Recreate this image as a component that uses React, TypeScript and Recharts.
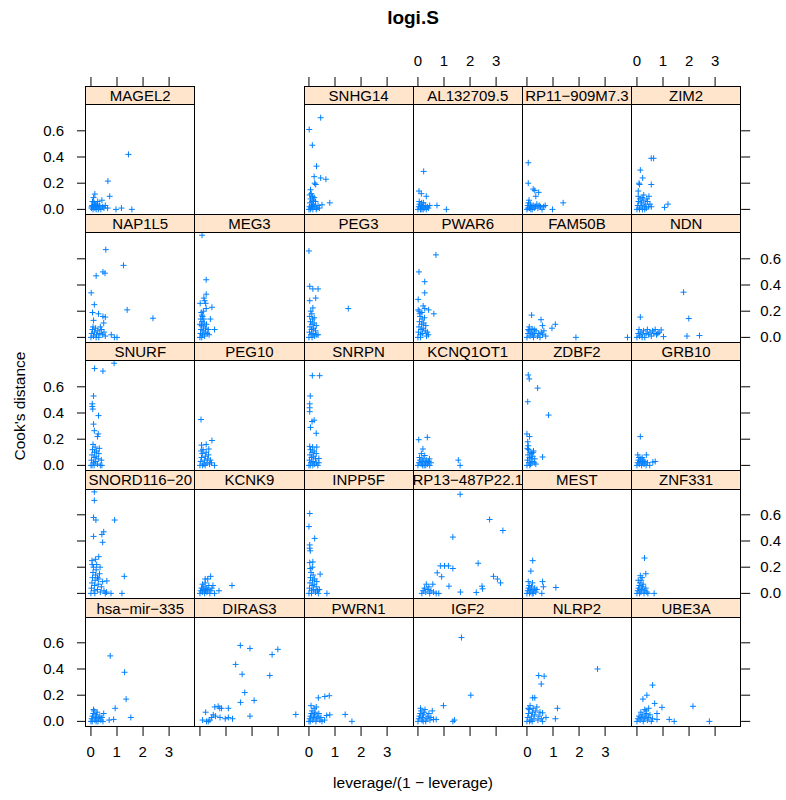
import React from 'react';
import { ScatterChart, Scatter, XAxis, YAxis } from 'recharts';

// leverage/(1 - leverage) vs Cook's distance, one list of [x, y] per gene
const MAGEL2 = [[1.44,0.42],[0.65,0.216],[0.72,0.10],[0.15,0.117],[0.10,0.09],[0.42,0.07],[0.26,0.06],[1.17,0.01],[1.57,0.0],[0.96,0.0],[0.64,0.01],[0.02,0.01],[0.05,0.03],[0.08,0.0],[0.1,0.02],[0.12,0.05],[0.15,0.01],[0.18,0.03],[0.2,0.0],[0.22,0.02],[0.25,0.04],[0.3,0.01],[0.33,0.03],[0.38,0.0],[0.45,0.02],[0.5,0.01],[0.55,0.03],[0.06,0.06],[0.03,0.02],[0.14,0.04],[0.28,0.0]];
const SNHG14 = [[0.45,0.70],[0.01,0.61],[0.13,0.49],[0.29,0.33],[0.2,0.25],[0.45,0.24],[0.65,0.23],[0.22,0.2],[0.26,0.19],[0.06,0.15],[0.14,0.10],[0.8,0.05],[0.5,0.035],[0.0,0.0],[0.02,0.02],[0.04,0.05],[0.06,0.08],[0.08,0.01],[0.1,0.03],[0.12,0.06],[0.15,0.0],[0.18,0.04],[0.2,0.09],[0.22,0.02],[0.25,0.06],[0.3,0.01],[0.35,0.03],[0.03,0.11],[0.09,0.12],[0.05,0.0],[0.13,0.02],[0.17,0.07],[0.28,0.0],[0.4,0.01]];
const AL132709 = [[0.22,0.29],[0.04,0.14],[0.32,0.10],[0.13,0.12],[0.73,0.03],[1.09,0.0],[0.45,0.03],[0.0,0.0],[0.03,0.02],[0.06,0.04],[0.09,0.01],[0.12,0.03],[0.15,0.0],[0.18,0.02],[0.21,0.05],[0.24,0.01],[0.28,0.03],[0.32,0.0],[0.36,0.02],[0.05,0.06],[0.1,0.0],[0.2,0.0],[0.4,0.01],[0.14,0.05]];
const RP11 = [[0.05,0.356],[0.05,0.2],[0.24,0.155],[0.3,0.145],[0.45,0.13],[0.34,0.10],[1.39,0.05],[0.98,0.0],[0.0,0.0],[0.03,0.03],[0.06,0.05],[0.1,0.01],[0.13,0.04],[0.16,0.02],[0.2,0.0],[0.24,0.03],[0.28,0.01],[0.33,0.02],[0.38,0.04],[0.42,0.01],[0.47,0.03],[0.52,0.02],[0.58,0.0],[0.64,0.02],[0.7,0.03],[0.08,0.07],[0.04,0.01],[0.15,0.0]];
const ZIM2 = [[0.55,0.39],[0.64,0.39],[0.13,0.30],[0.22,0.24],[0.08,0.2],[0.1,0.19],[0.55,0.19],[0.05,0.14],[0.26,0.11],[0.46,0.10],[1.19,0.04],[1.06,0.015],[0.55,0.02],[0.0,0.0],[0.03,0.03],[0.06,0.06],[0.09,0.01],[0.12,0.08],[0.15,0.03],[0.18,0.05],[0.21,0.0],[0.24,0.07],[0.28,0.02],[0.32,0.04],[0.36,0.01],[0.4,0.06],[0.45,0.02],[0.5,0.04],[0.05,0.1],[0.2,0.09],[0.1,0.0],[0.3,0.0],[0.38,0.08]];
const NAP1L5 = [[0.57,0.67],[1.25,0.55],[0.46,0.50],[0.54,0.49],[0.2,0.47],[0.01,0.34],[0.13,0.25],[1.39,0.21],[2.38,0.146],[0.06,0.19],[0.29,0.18],[0.46,0.16],[0.55,0.155],[0.1,0.13],[0.49,0.11],[0.78,0.02],[0.9,0.0],[1.0,0.0],[0.0,0.0],[0.03,0.03],[0.06,0.06],[0.1,0.01],[0.14,0.04],[0.18,0.07],[0.22,0.02],[0.26,0.05],[0.3,0.0],[0.34,0.03],[0.4,0.06],[0.45,0.02],[0.5,0.04],[0.55,0.01],[0.08,0.08],[0.2,0.0],[0.36,0.08]];
const MEG3 = [[0.08,0.78],[0.24,0.44],[0.24,0.33],[0.15,0.3],[0.18,0.28],[0.01,0.26],[0.22,0.26],[0.46,0.23],[0.24,0.22],[0.08,0.17],[0.4,0.14],[0.56,0.06],[0.15,0.14],[0.0,0.0],[0.02,0.03],[0.04,0.06],[0.06,0.09],[0.08,0.12],[0.1,0.02],[0.12,0.05],[0.14,0.08],[0.16,0.11],[0.18,0.01],[0.2,0.04],[0.22,0.07],[0.25,0.1],[0.28,0.03],[0.32,0.06],[0.03,0.14],[0.1,0.16],[0.05,0.19],[0.13,0.2],[0.35,0.02],[0.0,0.1],[0.07,0.0]];
const PEG3 = [[0.0,0.66],[0.03,0.39],[0.15,0.37],[0.35,0.37],[0.26,0.30],[0.03,0.28],[1.51,0.22],[0.15,0.225],[0.11,0.18],[0.35,0.02],[0.0,0.0],[0.02,0.04],[0.04,0.08],[0.06,0.12],[0.08,0.02],[0.1,0.06],[0.12,0.1],[0.14,0.14],[0.16,0.03],[0.18,0.07],[0.2,0.11],[0.22,0.01],[0.25,0.05],[0.28,0.09],[0.3,0.02],[0.03,0.16],[0.07,0.2],[0.12,0.0],[0.2,0.15]];
const PWAR6 = [[0.69,0.63],[0.04,0.50],[0.26,0.425],[0.26,0.34],[0.01,0.29],[0.2,0.24],[0.26,0.22],[0.41,0.21],[0.61,0.18],[0.01,0.21],[0.07,0.18],[0.0,0.0],[0.02,0.04],[0.04,0.08],[0.06,0.12],[0.08,0.16],[0.1,0.02],[0.12,0.06],[0.14,0.1],[0.16,0.14],[0.18,0.03],[0.2,0.07],[0.22,0.11],[0.25,0.15],[0.28,0.05],[0.3,0.09],[0.33,0.01],[0.36,0.04],[0.4,0.02],[0.05,0.2],[0.15,0.19],[0.1,0.0]];
const FAM50B = [[0.18,0.17],[0.54,0.135],[0.6,0.09],[1.09,0.10],[0.96,0.07],[0.09,0.08],[0.2,0.065],[1.88,0.0],[3.86,0.0],[0.0,0.0],[0.04,0.03],[0.08,0.05],[0.12,0.01],[0.16,0.04],[0.2,0.02],[0.25,0.0],[0.3,0.03],[0.35,0.05],[0.4,0.01],[0.45,0.03],[0.5,0.0],[0.55,0.04],[0.6,0.02],[0.65,0.05],[0.72,0.01],[0.05,0.06],[0.28,0.06]];
const NDN = [[1.79,0.345],[1.99,0.144],[0.13,0.155],[1.92,0.01],[2.4,0.014],[1.02,0.006],[0.93,0.057],[0.8,0.03],[0.0,0.0],[0.05,0.03],[0.1,0.01],[0.15,0.04],[0.2,0.02],[0.25,0.05],[0.3,0.0],[0.35,0.03],[0.4,0.06],[0.45,0.02],[0.5,0.04],[0.55,0.01],[0.6,0.05],[0.65,0.03],[0.7,0.06],[0.75,0.02],[0.85,0.04],[0.08,0.06],[0.2,0.0]];
const SNURF = [[0.89,0.78],[0.14,0.74],[0.46,0.72],[0.1,0.53],[0.05,0.47],[0.05,0.45],[0.07,0.43],[0.29,0.38],[0.1,0.315],[0.13,0.265],[0.28,0.24],[0.25,0.22],[0.42,0.0],[0.0,0.0],[0.02,0.04],[0.04,0.08],[0.06,0.12],[0.08,0.16],[0.1,0.02],[0.12,0.06],[0.14,0.1],[0.16,0.14],[0.18,0.03],[0.2,0.07],[0.22,0.11],[0.25,0.01],[0.28,0.05],[0.3,0.09],[0.32,0.13],[0.36,0.0],[0.4,0.04],[0.04,0.0],[0.12,0.0]];
const PEG10 = [[0.04,0.35],[0.46,0.19],[0.24,0.16],[0.06,0.155],[0.34,0.125],[0.56,0.0],[0.0,0.0],[0.03,0.03],[0.06,0.06],[0.09,0.09],[0.12,0.12],[0.15,0.01],[0.18,0.04],[0.21,0.07],[0.24,0.1],[0.27,0.02],[0.3,0.05],[0.33,0.08],[0.37,0.01],[0.4,0.04],[0.44,0.02],[0.05,0.11],[0.1,0.0],[0.2,0.0]];
const SNRPN = [[0.13,0.685],[0.41,0.685],[0.05,0.53],[0.03,0.47],[0.03,0.44],[0.03,0.41],[0.2,0.345],[0.12,0.335],[0.06,0.29],[0.28,0.245],[0.03,0.145],[0.3,0.14],[0.38,0.053],[0.0,0.0],[0.02,0.04],[0.04,0.08],[0.06,0.12],[0.08,0.02],[0.1,0.06],[0.12,0.1],[0.14,0.14],[0.16,0.03],[0.18,0.07],[0.2,0.11],[0.22,0.01],[0.25,0.05],[0.28,0.09],[0.3,0.02],[0.34,0.0],[0.38,0.02],[0.05,0.0],[0.15,0.0]];
const KCNQ1OT1 = [[0.03,0.196],[0.36,0.214],[0.19,0.125],[0.13,0.09],[0.26,0.075],[1.55,0.04],[1.62,0.0],[0.45,0.0],[0.0,0.0],[0.04,0.02],[0.08,0.04],[0.12,0.01],[0.16,0.03],[0.2,0.05],[0.24,0.0],[0.28,0.02],[0.32,0.04],[0.36,0.01],[0.4,0.03],[0.44,0.05],[0.06,0.06],[0.18,0.0],[0.3,0.0],[0.5,0.02]];
const ZDBF2 = [[0.05,0.69],[0.09,0.66],[0.41,0.59],[0.03,0.486],[0.83,0.384],[0.0,0.24],[0.1,0.22],[0.03,0.18],[0.05,0.15],[0.6,0.064],[0.24,0.1],[0.0,0.0],[0.02,0.04],[0.04,0.08],[0.06,0.12],[0.08,0.02],[0.1,0.06],[0.12,0.1],[0.14,0.01],[0.16,0.05],[0.18,0.09],[0.2,0.03],[0.22,0.07],[0.25,0.11],[0.28,0.02],[0.3,0.05],[0.34,0.01],[0.02,0.13],[0.11,0.0]];
const GRB10 = [[0.13,0.22],[0.03,0.08],[0.36,0.08],[0.7,0.03],[0.61,0.025],[0.49,0.0],[0.0,0.0],[0.03,0.02],[0.06,0.04],[0.09,0.01],[0.12,0.03],[0.15,0.05],[0.18,0.0],[0.21,0.02],[0.24,0.04],[0.27,0.01],[0.3,0.03],[0.35,0.0],[0.4,0.02],[0.08,0.06],[0.2,0.06]];
const SNORD116 = [[0.13,0.775],[0.13,0.71],[0.1,0.58],[0.19,0.56],[0.91,0.56],[0.49,0.47],[0.42,0.45],[0.1,0.435],[0.45,0.39],[0.3,0.28],[0.17,0.26],[0.04,0.25],[1.28,0.13],[0.61,0.095],[1.19,0.0],[0.77,0.0],[0.0,0.0],[0.02,0.04],[0.04,0.08],[0.06,0.12],[0.08,0.16],[0.1,0.2],[0.12,0.02],[0.14,0.06],[0.16,0.1],[0.18,0.14],[0.2,0.18],[0.22,0.22],[0.25,0.03],[0.28,0.07],[0.3,0.11],[0.33,0.15],[0.36,0.01],[0.4,0.05],[0.45,0.09],[0.5,0.02],[0.55,0.0],[0.6,0.01],[0.05,0.22],[0.15,0.0],[0.35,0.2],[0.25,0.12]];
const KCNK9 = [[0.41,0.13],[0.2,0.11],[0.3,0.11],[1.23,0.06],[0.5,0.06],[0.73,0.02],[0.56,0.0],[0.0,0.0],[0.03,0.02],[0.06,0.04],[0.09,0.01],[0.12,0.03],[0.15,0.05],[0.18,0.0],[0.21,0.02],[0.24,0.04],[0.27,0.01],[0.3,0.03],[0.34,0.06],[0.38,0.0],[0.42,0.02],[0.46,0.04],[0.1,0.07],[0.2,0.08]];
const INPP5F = [[0.03,0.61],[0.0,0.51],[0.22,0.42],[0.03,0.37],[0.03,0.345],[0.05,0.325],[0.15,0.24],[0.03,0.235],[0.43,0.147],[0.69,0.0],[0.13,0.2],[0.0,0.0],[0.02,0.04],[0.04,0.08],[0.06,0.12],[0.08,0.16],[0.1,0.02],[0.12,0.06],[0.14,0.1],[0.16,0.14],[0.18,0.03],[0.2,0.07],[0.22,0.11],[0.25,0.01],[0.28,0.05],[0.3,0.09],[0.33,0.02],[0.36,0.0],[0.4,0.03],[0.05,0.19],[0.1,0.0]];
const RP13 = [[1.62,0.757],[2.75,0.564],[3.26,0.48],[1.34,0.43],[2.31,0.23],[0.86,0.21],[1.02,0.21],[1.17,0.21],[1.34,0.19],[0.74,0.157],[0.91,0.127],[2.9,0.13],[3.05,0.11],[3.17,0.08],[1.19,0.055],[0.57,0.07],[0.32,0.07],[2.46,0.055],[2.48,0.035],[1.63,0.01],[2.24,0.007],[0.15,0.0],[0.2,0.02],[0.3,0.01],[0.38,0.03],[0.45,0.0],[0.5,0.02],[0.6,0.01],[0.7,0.0],[0.8,0.0],[0.25,0.04],[0.42,0.05]];
const MEST = [[0.22,0.25],[0.15,0.17],[0.6,0.09],[1.11,0.045],[0.63,0.05],[0.57,0.0],[0.0,0.0],[0.03,0.02],[0.06,0.04],[0.09,0.06],[0.12,0.01],[0.15,0.03],[0.18,0.05],[0.21,0.08],[0.24,0.0],[0.27,0.02],[0.3,0.04],[0.34,0.01],[0.38,0.03],[0.05,0.09],[0.2,0.0],[0.1,0.0]];
const ZNF331 = [[0.29,0.27],[0.34,0.15],[0.13,0.135],[0.66,0.0],[0.2,0.12],[0.0,0.0],[0.03,0.02],[0.06,0.04],[0.09,0.06],[0.12,0.08],[0.15,0.01],[0.18,0.03],[0.21,0.05],[0.24,0.07],[0.27,0.0],[0.3,0.02],[0.34,0.04],[0.38,0.01],[0.42,0.0],[0.05,0.1],[0.16,0.1],[0.1,0.0]];
const HSA_MIR_335 = [[0.74,0.50],[1.29,0.375],[1.35,0.17],[0.93,0.10],[1.53,0.03],[0.87,0.015],[0.7,0.01],[0.49,0.06],[0.0,0.0],[0.03,0.02],[0.06,0.04],[0.09,0.06],[0.12,0.08],[0.15,0.01],[0.18,0.03],[0.21,0.05],[0.24,0.07],[0.27,0.0],[0.3,0.02],[0.34,0.04],[0.38,0.01],[0.42,0.03],[0.46,0.0],[0.1,0.09],[0.2,0.0],[0.05,0.0]];
const DIRAS3 = [[1.55,0.58],[1.92,0.557],[2.99,0.55],[2.77,0.51],[1.37,0.435],[1.62,0.36],[2.68,0.35],[1.72,0.22],[2.08,0.16],[1.56,0.145],[3.68,0.053],[1.92,0.04],[1.09,0.10],[0.7,0.115],[0.57,0.11],[0.83,0.1],[0.76,0.1],[0.77,0.03],[1.09,0.03],[0.97,0.02],[1.25,0.02],[0.22,0.07],[0.51,0.05],[0.1,0.01],[0.32,0.0],[0.45,0.03],[0.38,0.01],[0.6,0.04],[0.25,0.0]];
const PWRN1 = [[0.78,0.196],[0.61,0.19],[0.36,0.18],[0.08,0.12],[1.39,0.053],[1.65,0.0],[0.8,0.05],[0.68,0.045],[0.6,0.01],[0.0,0.0],[0.03,0.02],[0.06,0.04],[0.09,0.06],[0.12,0.08],[0.15,0.01],[0.18,0.03],[0.21,0.05],[0.24,0.07],[0.27,0.0],[0.3,0.02],[0.34,0.04],[0.38,0.06],[0.42,0.01],[0.46,0.03],[0.5,0.0],[0.2,0.1],[0.28,0.11],[0.05,0.0]];
const IGF2 = [[1.67,0.64],[2.03,0.20],[0.98,0.12],[1.34,0.0],[1.4,0.01],[0.6,0.015],[0.7,0.015],[0.0,0.0],[0.03,0.02],[0.06,0.04],[0.09,0.06],[0.12,0.08],[0.15,0.01],[0.18,0.03],[0.21,0.05],[0.24,0.07],[0.27,0.09],[0.3,0.0],[0.34,0.02],[0.38,0.04],[0.42,0.06],[0.46,0.01],[0.5,0.03],[0.55,0.08],[0.1,0.1],[0.2,0.0]];
const NLRP2 = [[2.71,0.40],[0.45,0.35],[0.66,0.345],[0.55,0.285],[0.22,0.18],[0.3,0.18],[1.17,0.10],[1.09,0.02],[0.73,0.03],[0.6,0.065],[0.0,0.0],[0.03,0.03],[0.06,0.06],[0.09,0.09],[0.12,0.12],[0.15,0.01],[0.18,0.04],[0.21,0.07],[0.24,0.1],[0.27,0.02],[0.3,0.05],[0.34,0.08],[0.38,0.11],[0.42,0.01],[0.46,0.04],[0.5,0.07],[0.55,0.02],[0.6,0.0],[0.1,0.0],[0.2,0.0],[0.05,0.1]];
const UBE3A = [[0.6,0.277],[0.38,0.2],[0.23,0.17],[0.68,0.137],[0.96,0.107],[2.15,0.115],[0.77,0.06],[0.77,0.015],[1.24,0.015],[1.43,0.0],[2.78,0.0],[0.45,0.1],[0.3,0.09],[0.0,0.0],[0.04,0.02],[0.08,0.04],[0.12,0.01],[0.16,0.03],[0.2,0.05],[0.24,0.0],[0.28,0.02],[0.32,0.04],[0.36,0.06],[0.4,0.01],[0.45,0.03],[0.5,0.05],[0.55,0.0],[0.6,0.02],[0.15,0.07],[0.35,0.08]];

// panel grid, top row first; null = empty slot
const GRID: ([string, number[][]] | null)[][] = [
  [['MAGEL2', MAGEL2], null, ['SNHG14', SNHG14], ['AL132709.5', AL132709], ['RP11\u2212909M7.3', RP11], ['ZIM2', ZIM2]],
  [['NAP1L5', NAP1L5], ['MEG3', MEG3], ['PEG3', PEG3], ['PWAR6', PWAR6], ['FAM50B', FAM50B], ['NDN', NDN]],
  [['SNURF', SNURF], ['PEG10', PEG10], ['SNRPN', SNRPN], ['KCNQ1OT1', KCNQ1OT1], ['ZDBF2', ZDBF2], ['GRB10', GRB10]],
  [['SNORD116\u221220', SNORD116], ['KCNK9', KCNK9], ['INPP5F', INPP5F], ['RP13\u2212487P22.1', RP13], ['MEST', MEST], ['ZNF331', ZNF331]],
  [['hsa\u2212mir\u2212335', HSA_MIR_335], ['DIRAS3', DIRAS3], ['PWRN1', PWRN1], ['IGF2', IGF2], ['NLRP2', NLRP2], ['UBE3A', UBE3A]],
];

const X_TICKS = [0, 1, 2, 3];
const Y_TICKS = [0, 0.2, 0.4, 0.6];
const X_DOMAIN = [-0.19, 4.0];
const Y_DOMAIN = [-0.0405, 0.797];
const TOP_LABEL_COLS = [1, 3, 5];
const BOTTOM_LABEL_COLS = [0, 2, 4];

const FONT = '"Liberation Sans", Arial, Helvetica, sans-serif';
const X0 = 85.7;
const W = 109.17;
const Y0 = 86;
const ROW = 128.2;
const SH = 18.5;
const PH = 109.7;
const AX = 60;
const TA = 40;
const PAD = 12;
const TICK = 9;
const SPAN = X_DOMAIN[1] - X_DOMAIN[0];

const Cross = (p: any) => {
  const { cx, cy } = p;
  if (cx == null || cy == null) return <g />;
  return <path d={`M${cx - 3},${cy}h6M${cx},${cy - 3}v6`} stroke="#0080ff" strokeWidth={1} fill="none" />;
};
const Nothing = () => <g />;

const yTick = (show: boolean, right: boolean) => (p: any) => {
  if (!show) return <g />;
  const { x, y, payload } = p;
  return (
    <text x={right ? x + 8 : x - 11} y={y + 5} textAnchor={right ? 'start' : 'end'} fill="#000" fontSize={15} fontFamily={FONT}>
      {Number(payload.value).toFixed(1)}
    </text>
  );
};

function Panel({ name, pts, row, col }: { name: string; pts: number[][]; row: number; col: number }) {
  const left = X0 + col * W;
  const top = Y0 + row * ROW + SH;
  const hasLeft = col === 0;
  const hasRight = col === 5;
  const yLab = hasLeft ? row % 2 === 0 : row % 2 === 1;
  const cw = W + (hasLeft ? AX : 0) + (hasRight ? AX : 0);
  const ch = PH + 2 * PAD;
  const data = pts.map(([x, y]) => ({ x, y }));
  return (
    <>
      <div style={{ position: 'absolute', left: left - (hasLeft ? AX : 0), top: top - PAD, width: cw, height: ch }}>
        <ScatterChart width={cw} height={ch} margin={{ top: PAD, right: 0, bottom: PAD, left: 0 }}>
          <XAxis type="number" dataKey="x" domain={X_DOMAIN} ticks={X_TICKS} allowDataOverflow hide />
          <YAxis type="number" dataKey="y" domain={Y_DOMAIN} ticks={Y_TICKS} interval={0} allowDataOverflow
            hide={!(hasLeft || hasRight)} orientation={hasRight ? 'right' : 'left'} width={AX} axisLine={false}
            tickSize={TICK} stroke="#000" tick={yTick(yLab, hasRight)} />
          <Scatter data={data} shape={Cross} isAnimationActive={false} />
        </ScatterChart>
      </div>
      <div style={{ position: 'absolute', left: left - 0.5, top: top - 0.5, width: W + 1, height: PH + 1,
        border: '1px solid #000', boxSizing: 'border-box', pointerEvents: 'none' }} />
      <div style={{ position: 'absolute', left: left - 0.5, top: top - SH - 0.5, width: W + 1, height: SH + 1,
        border: '1px solid #000', boxSizing: 'border-box', background: '#ffe5cc', overflow: 'hidden',
        display: 'flex', justifyContent: 'center', alignItems: 'center', fontFamily: FONT, fontSize: 15,
        whiteSpace: 'nowrap', color: '#000' }}>
        <span>{name}</span>
      </div>
    </>
  );
}

// outer x axis of one column, above the top strip or below the bottom panel.
// Tick labels are written as html next to the tick the axis reports.
function EdgeAxis({ col, top }: { col: number; top: boolean }) {
  const left = X0 + col * W;
  const show = (top ? TOP_LABEL_COLS : BOTTOM_LABEL_COLS).includes(col);
  const y = top ? Y0 - TA : Y0 + 4 * ROW + SH + PH - 4;
  const data = X_TICKS.map((x) => ({ x, y: 0 }));
  return (
    <div style={{ position: 'absolute', left, top: y, width: W, height: TA + 4, zIndex: 5 }}>
      <ScatterChart width={W} height={TA + 4} margin={{ top: 0, right: 0, bottom: 0, left: 0 }}>
        <XAxis type="number" dataKey="x" orientation={top ? 'top' : 'bottom'} domain={X_DOMAIN} ticks={X_TICKS}
          interval={0} allowDataOverflow height={TA} axisLine={false} tickSize={TICK} stroke="#000"
          tick={(p: any) => (show && top ? (
            <text x={p.x} y={p.y - 9} textAnchor="middle" fill="#000" fontSize={15} fontFamily={FONT}>
              {String(p.payload.value)}
            </text>
          ) : <g />)} />
        <YAxis type="number" dataKey="y" domain={Y_DOMAIN} allowDataOverflow hide />
        <Scatter data={data} shape={Nothing} isAnimationActive={false} />
      </ScatterChart>
      {show && !top && X_TICKS.map((t) => (
        <div key={t} style={{ position: 'absolute', left: ((t - X_DOMAIN[0]) / SPAN) * W, top: 28,
          transform: 'translate(-50%, -50%)', fontSize: 15, lineHeight: '15px', fontFamily: FONT, color: '#000' }}>
          {t}
        </div>
      ))}
    </div>
  );
}

export default function App() {
  const bottomRow = GRID[GRID.length - 1];
  return (
    <div style={{ position: 'absolute', left: 0, top: 0, width: 786, height: 800, background: '#fff', fontFamily: FONT }}>
      <div style={{ position: 'absolute', left: 413, top: 18, transform: 'translate(-50%, -50%)',
        fontWeight: 'bold', fontSize: 19, whiteSpace: 'nowrap' }}>logi.S</div>
      {GRID.map((r, ri) => r.map((p, ci) => (p ? <Panel key={p[0]} name={p[0]} pts={p[1]} row={ri} col={ci} /> : null)))}
      {GRID[0].map((p, c) => (p ? <EdgeAxis key={'top-' + c} col={c} top /> : null))}
      {bottomRow.map((p, c) => (p ? <EdgeAxis key={'bottom-' + c} col={c} top={false} /> : null))}
      <div style={{ position: 'absolute', left: 20, top: 406, transform: 'translate(-50%, -50%) rotate(-90deg)',
        fontSize: 15.5, whiteSpace: 'nowrap' }}>Cook's distance</div>
      <div style={{ position: 'absolute', left: 413, top: 783, transform: 'translate(-50%, -50%)',
        fontSize: 15.5, whiteSpace: 'nowrap' }}>leverage/(1 {'\u2212'} leverage)</div>
    </div>
  );
}
